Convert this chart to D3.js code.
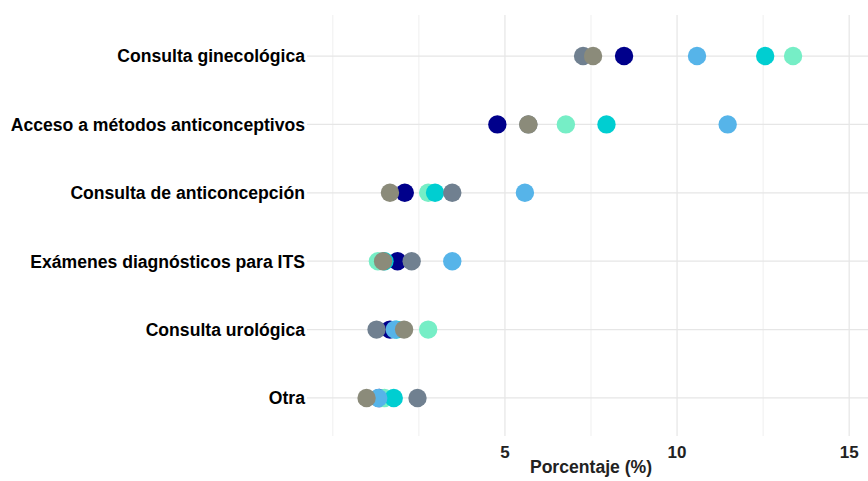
<!DOCTYPE html>
<html><head><meta charset="utf-8">
<script src="https://cdn.jsdelivr.net/npm/d3@7"></script>
<style>body{margin:0;background:#fff}svg{display:block}</style>
</head><body>
<svg id="c" width="868" height="481"></svg>
<script>
const categories = ["Consulta ginecológica","Acceso a métodos anticonceptivos","Consulta de anticoncepción","Exámenes diagnósticos para ITS","Consulta urológica","Otra"];
const seriesNames = ["S1","S2","S3","S4","S5","S6"];
const seriesColors = ["#00008B","#76EEC6","#00CED1","#56B4E9","#708090","#8B8B7A"];
// values per series, in category order
const navyVals      = [8.46, 4.78, 2.09, 1.88, 1.66, 1.35];
const aquaVals      = [13.37, 6.77, 2.77, 1.31, 2.77, 1.50];
const turqVals      = [12.56, 7.95, 2.97, 1.50, 1.85, 1.77];
const lightBlueVals = [10.58, 11.47, 5.58, 3.47, 1.80, 1.32];
const slateVals     = [7.27, 5.68, 3.47, 2.29, 1.27, 2.46];
const oliveVals     = [7.56, 5.68, 1.66, 1.46, 2.07, 0.98];
const seriesVals = [navyVals, aquaVals, turqVals, lightBlueVals, slateVals, oliveVals];
const xTicks = [5, 10, 15];
const xMinor = [0, 2.5, 7.5, 12.5];

const svg = d3.select("#c");
const m = {left: 307, right: 875, top: 15, bottom: 439};
const x = d3.scaleLinear().domain([-0.75, 15.75]).range([m.left, m.right]);
const y = d3.scalePoint().domain(categories).range([m.top, m.bottom]).padding(0.6);
const font = "Liberation Sans, Arial, sans-serif";

const g = svg.append("g");
g.selectAll(".minor").data(xMinor).join("line")
  .attr("x1", d => x(d)).attr("x2", d => x(d)).attr("y1", m.top).attr("y2", m.bottom - 3)
  .attr("stroke", "#ebebeb").attr("stroke-width", 0.8);
g.selectAll(".major").data(xTicks).join("line")
  .attr("x1", d => x(d)).attr("x2", d => x(d)).attr("y1", m.top).attr("y2", m.bottom - 3)
  .attr("stroke", "#e6e6e6").attr("stroke-width", 1.2);
g.selectAll(".hy").data(categories).join("line")
  .attr("x1", m.left).attr("x2", 868).attr("y1", d => y(d)).attr("y2", d => y(d))
  .attr("stroke", "#e6e6e6").attr("stroke-width", 1.2);

g.selectAll(".yl").data(categories).join("text")
  .attr("x", 305).attr("y", d => y(d)).attr("dy", "0.36em")
  .attr("text-anchor", "end").attr("font-family", font)
  .attr("font-weight", "bold").attr("font-size", 17.6).attr("fill", "#000").text(d => d);

g.selectAll(".xl").data(xTicks).join("text")
  .attr("x", d => x(d)).attr("y", 458).attr("text-anchor", "middle")
  .attr("font-family", font).attr("font-weight", "bold")
  .attr("font-size", 17).attr("fill", "#222").text(d => d);

svg.append("text").attr("x", (m.left + m.right) / 2).attr("y", 473).attr("text-anchor", "middle")
  .attr("font-family", font).attr("font-weight", "bold")
  .attr("font-size", 17.6).attr("fill", "#222").text("Porcentaje (%)");

categories.forEach((cat, ci) => {
  seriesVals.forEach((vals, si) => {
    g.append("circle").attr("cx", x(vals[ci])).attr("cy", y(cat)).attr("r", 9.2)
      .attr("fill", seriesColors[si]);
  });
});
</script>
</body></html>
